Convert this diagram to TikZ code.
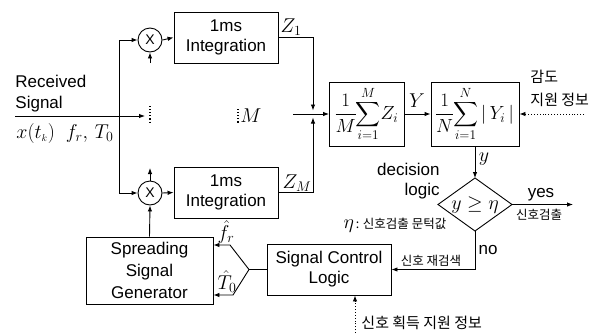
\RequirePackage{fix-cm}
\documentclass[tikz,border=0pt]{standalone}
\usepackage{amsmath}
\usepackage{fontspec}
\setmainfont{Liberation Sans}
\newfontfamily\kr{Noto Sans CJK KR}
\usetikzlibrary{arrows.meta}

\newcommand\lab{\fontsize{17}{20}\selectfont}
\newcommand\mth{\fontsize{20}{22}\selectfont}
\newcommand\mbx{\fontsize{19}{21}\selectfont}

\tikzset{
  blk/.style={draw, line width=0.9pt, inner sep=0pt, align=center, font=\lab},
  mixer/.style={draw, circle, line width=0.9pt, minimum size=24, inner sep=0pt,
                font=\fontsize{14}{14}\selectfont},
  arr/.style={-{Latex[length=6pt,width=4.5pt]}},
  dotline/.style={dotted, line width=1.1pt},
  txt/.style={inner sep=0pt, font=\lab},
  mtxt/.style={inner sep=0pt, font=\mth},
  krl/.style={inner sep=0pt, font=\kr\fontsize{15}{18}\selectfont},
  krs/.style={inner sep=0pt, font=\kr\fontsize{12.5}{15}\selectfont},
}

\begin{document}
\begin{tikzpicture}[x=1pt, y=-1pt, line width=0.9pt]
\useasboundingbox[fill=white] (0,0) rectangle (605,333);

% correlator branches
\node[mixer] (mix1) at (150,40) {X};
\node[mixer] (mix2) at (150,193) {X};
\node[blk, minimum width=104, minimum height=51] (int1) at (226,37.5) {1ms\\Integration};
\node[blk, minimum width=104, minimum height=51] (int2) at (226,192.5) {1ms\\Integration};
\node[blk, minimum width=127, minimum height=67, font=\fontsize{17}{22}\selectfont]
  (ssg) at (149.5,270.5) {Spreading\\Signal\\Generator};
\node[blk, minimum width=124, minimum height=51] (scl) at (329,269.5) {Signal Control\\Logic};

% averaging blocks
\node[blk, minimum width=75, minimum height=64, font=\mbx] (sum1) at (367,114)
  {$\nulldelimiterspace=0pt\displaystyle\frac{1}{M}\!\sum_{i=1}^{M}\!Z_i$};
\node[blk, minimum width=88, minimum height=64, font=\mbx] (sum2) at (475,114)
  {$\nulldelimiterspace=0pt\displaystyle\frac{1}{N}\!\sum_{i=1}^{N}|\,Y_i\,|$};

% decision diamond
\coordinate (dtop) at (475,178);
\coordinate (dbot) at (475,231);
\coordinate (dleft) at (438,204.5);
\coordinate (dright) at (512,204.5);
\draw (dtop) -- (dright) -- (dbot) -- (dleft) -- cycle;
\node[mtxt, font=\fontsize{20}{20}\selectfont] (cmp) at (475,205) {$y\geq\eta$};

% input bus
\coordinate (bus1) at (119,40);
\coordinate (bus2) at (119,193);
\draw (bus1) -- (bus2);
\draw[arr] (bus1) -- (mix1.west);
\draw[arr] (bus2) -- (mix2.west);
\draw[arr] (mix1.east) -- (int1.west);
\draw[arr] (mix2.east) -- (int2.west);
\coordinate (stub1) at (150,63);
\coordinate (stub2) at (150,168);
\draw[arr] (stub1) -- (mix1.south);
\draw[arr] (mix2.north) -- (stub2);
\draw[arr] (ssg.north) -- (mix2.south);

% received signal
\coordinate (rs) at (15,116);
\coordinate (dots) at (145,116);
\draw[arr] (rs) -- (dots);
\draw[dotline] (150,106) -- (150,124);
\node[txt, anchor=west, align=left, font=\fontsize{17}{21}\selectfont] (rslab) at (15,93.5) {Received\\Signal};
\node[mtxt, anchor=west] (xlab) at (16,133) {$x(t_{\scriptscriptstyle k})\;\;f_r,\,T_0$};

% M branches indicator
\draw[dotline] (238,109) -- (238,123);
\node[mtxt] (mlab) at (251,116) {$M$};

% combining the branch outputs
\coordinate (jt) at (313,110.5);
\coordinate (jb) at (313,117.5);
\coordinate (jin) at (293,114);
\draw[arr] (int1.east) -| (jt);
\draw[arr] (int2.east) -| (jb);
\draw[arr] (jin) -- (sum1.west);
\node[mtxt] (z1) at (291,27) {$Z_1$};
\node[mtxt] (zm) at (297,183) {$Z_M$};

\draw[arr] (sum1.east) -- (sum2.west);
\node[mtxt] (ylab) at (417,101) {$Y$};

% sensitivity assistance input
\coordinate (info1) at (584,114);
\draw[arr, dotted] (info1) -- (sum2.east);
\node[krl, anchor=west] (ka) at (530,77) {감도};
\node[krl, anchor=west] (kb) at (530,100) {지원 정보};

% decision
\draw[arr] (sum2.south) -- (dtop);
\node[mtxt] (ysm) at (484,159) {$y$};
\node[txt, anchor=east, align=right] (dl) at (440,181) {decision\\logic};
\coordinate (yesend) at (573,204.5);
\draw[arr] (dright) -- (yesend);
\node[txt] (yes) at (541,195) {yes};
\node[krs] (det) at (539,215) {신호검출};
\node[inner sep=0pt] (eta) at (395,225) {{\mth$\eta$}\,{\kr\fontsize{12.5}{15}\selectfont : 신호검출 문턱값}};

\draw[arr] (dbot) |- (scl.east);
\node[txt] (no) at (488,250) {no};
\node[krs] (res) at (431,261) {신호 재검색};

% feedback to the code generator
\coordinate (fork) at (249,269.5);
\coordinate (fu) at (230,245);
\coordinate (fl) at (233,295);
\draw (scl.west) -- (fork);
\draw[arr] (fork) -- (fu) -- (fu -| ssg.east);
\draw[arr] (fork) -- (fl) -- (fl -| ssg.east);
\node[mtxt] (fr) at (226,232) {$\hat f_r$};
\node[mtxt] (t0) at (227,282) {$\hat T_0$};

% acquisition assistance input
\coordinate (sclin) at (355,333);
\draw[arr, dotted] (sclin) -- (sclin |- scl.south);
\node[krl, anchor=west] (acq) at (361,323) {신호 획득 지원 정보};
\end{tikzpicture}
\end{document}
